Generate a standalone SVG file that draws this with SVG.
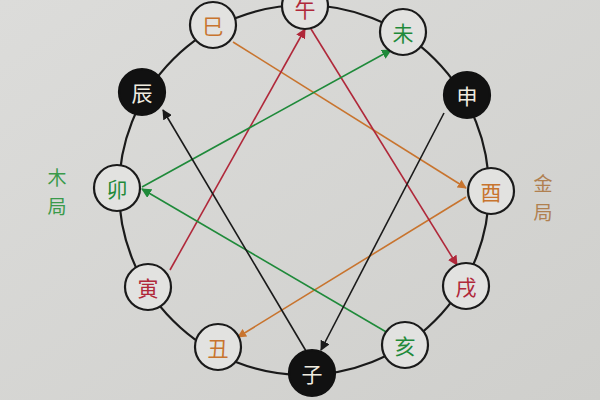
<svg xmlns="http://www.w3.org/2000/svg" width="600" height="400" viewBox="0 0 600 400">
<defs>
<style>
.n{fill:#e2e2e0;stroke:#1a1a1a;stroke-width:2.2}
.b{fill:#111;stroke:#111;stroke-width:2.2}
.t{font-family:"Noto Sans CJK SC","Noto Sans CJK JP",sans-serif;font-size:21px;text-anchor:middle;dominant-baseline:central}
.s{font-size:19px}
.c{stroke-width:1.6;fill:none}
</style>
<marker id="ao" viewBox="0 0 10 10" refX="9" refY="5" markerWidth="9" markerHeight="9" orient="auto" markerUnits="userSpaceOnUse"><path d="M0,0L10,5L0,10z" fill="#c8742e"/></marker>
<marker id="ar" viewBox="0 0 10 10" refX="9" refY="5" markerWidth="10" markerHeight="10" orient="auto" markerUnits="userSpaceOnUse"><path d="M0,0L10,5L0,10z" fill="#b0283a"/></marker>
<marker id="ag" viewBox="0 0 10 10" refX="9" refY="5" markerWidth="10" markerHeight="10" orient="auto" markerUnits="userSpaceOnUse"><path d="M0,0L10,5L0,10z" fill="#1f8a3a"/></marker>
<marker id="ak" viewBox="0 0 10 10" refX="9" refY="5" markerWidth="10" markerHeight="10" orient="auto" markerUnits="userSpaceOnUse"><path d="M0,0L10,5L0,10z" fill="#1a1a1a"/></marker>
<linearGradient id="bg" x1="0" y1="0" x2="1" y2="1"><stop offset="0" stop-color="#dcdcda"/><stop offset="1" stop-color="#cfcfcc"/></linearGradient>
</defs>
<rect width="600" height="400" fill="url(#bg)"/>
<circle cx="304" cy="190" r="185" fill="none" stroke="#1a1a1a" stroke-width="2.2"/>
<g id="connectors">
<line class="c" x1="233" y1="42" x2="466" y2="188" stroke="#c8742e" marker-end="url(#ao)"/>
<line class="c" x1="466" y1="197" x2="238" y2="337" stroke="#c8742e" marker-end="url(#ao)"/>
<line class="c" x1="170" y1="270" x2="305" y2="29" stroke="#b0283a" marker-end="url(#ar)"/>
<line class="c" x1="311" y1="29" x2="457" y2="265" stroke="#b0283a" marker-end="url(#ar)"/>
<line class="c" x1="142" y1="187" x2="391" y2="50" stroke="#1f8a3a" marker-end="url(#ag)"/>
<line class="c" x1="388" y1="333" x2="142" y2="189" stroke="#1f8a3a" marker-end="url(#ag)"/>
<line class="c" x1="306" y1="351" x2="163" y2="110" stroke="#1a1a1a" marker-end="url(#ak)"/>
<line class="c" x1="444" y1="113" x2="321" y2="350" stroke="#1a1a1a" marker-end="url(#ak)"/>
</g>
<g id="n-wu"><circle class="n" cx="305" cy="6" r="23"/><text class="t" x="305" y="8" fill="#b0283a">午</text></g>
<g id="n-si"><circle class="n" cx="213" cy="25" r="23"/><text class="t" x="213" y="25" fill="#c8742e">巳</text></g>
<g id="n-wei"><circle class="n" cx="403" cy="32" r="23"/><text class="t" x="403" y="32" fill="#1f8a3a">未</text></g>
<g id="n-chen"><circle class="b" cx="142" cy="92" r="23"/><text class="t" x="142" y="92" fill="#f0ece0">辰</text></g>
<g id="n-shen"><circle class="b" cx="467" cy="95" r="23"/><text class="t" x="467" y="95" fill="#f0ece0">申</text></g>
<g id="n-mao"><circle class="n" cx="117" cy="188" r="23"/><text class="t" x="117" y="188" fill="#1f8a3a">卯</text></g>
<g id="n-you"><circle class="n" cx="491" cy="191" r="23"/><text class="t" x="491" y="191" fill="#c8742e">酉</text></g>
<g id="n-yin"><circle class="n" cx="148" cy="287" r="23"/><text class="t" x="148" y="287" fill="#b0283a">寅</text></g>
<g id="n-xu"><circle class="n" cx="466" cy="286" r="23"/><text class="t" x="466" y="286" fill="#b0283a">戌</text></g>
<g id="n-chou"><circle class="n" cx="218" cy="347" r="23"/><text class="t" x="218" y="347" fill="#c8742e">丑</text></g>
<g id="n-hai"><circle class="n" cx="405" cy="345" r="23"/><text class="t" x="405" y="345" fill="#1f8a3a">亥</text></g>
<g id="n-zi"><circle class="b" cx="312" cy="373" r="23"/><text class="t" x="312" y="373" fill="#f0ece0">子</text></g>
<g id="label-mu"><text class="t s" x="57" y="176" fill="#3a9a4a">木</text><text class="t s" x="57" y="205" fill="#3a9a4a">局</text></g>
<g id="label-jin"><text class="t s" x="543" y="182" fill="#b08050">金</text><text class="t s" x="543" y="211" fill="#b08050">局</text></g>
</svg>
